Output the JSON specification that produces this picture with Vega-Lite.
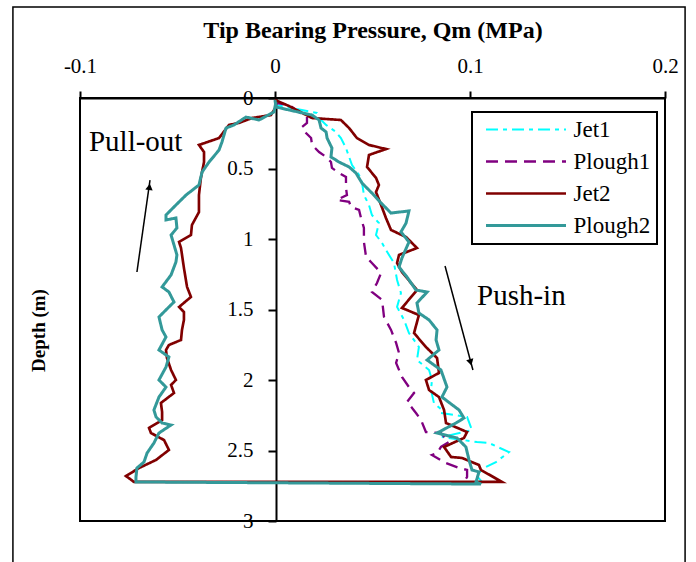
{
  "$schema": "https://vega.github.io/schema/vega-lite/v6.json",
  "width": 585,
  "height": 423,
  "autosize": {"type": "none"},
  "padding": {"left": 80, "top": 98, "right": 31, "bottom": 41},
  "background": "white",
  "config": {
    "view": {"stroke": "black", "strokeWidth": 2},
    "font": "Liberation Serif",
    "axis": {
      "labelFont": "Liberation Serif",
      "titleFont": "Liberation Serif",
      "labelColor": "black",
      "titleColor": "black",
      "domainColor": "black",
      "tickColor": "black",
      "domainWidth": 2,
      "tickWidth": 2,
      "grid": false,
      "labelFlush": false,
      "labelOverlap": false,
      "labelBound": false
    },
    "legend": {
      "labelFont": "Liberation Serif",
      "labelFontSize": 23,
      "labelColor": "black"
    }
  },
  "datasets": {
    "frame": [{"x": -0.1344, "x2": 0.2103, "y": -0.645, "y2": 3.35}],
    "curves": [
      {"series": "Jet1", "x": 0, "d": 0.014},
      {"series": "Jet1", "x": 0.0005, "d": 0.05},
      {"series": "Jet1", "x": 0.0138, "d": 0.085},
      {"series": "Jet1", "x": 0.0215, "d": 0.106},
      {"series": "Jet1", "x": 0.0226, "d": 0.142},
      {"series": "Jet1", "x": 0.0262, "d": 0.191},
      {"series": "Jet1", "x": 0.0313, "d": 0.241},
      {"series": "Jet1", "x": 0.0338, "d": 0.284},
      {"series": "Jet1", "x": 0.0364, "d": 0.355},
      {"series": "Jet1", "x": 0.038, "d": 0.418},
      {"series": "Jet1", "x": 0.0395, "d": 0.475},
      {"series": "Jet1", "x": 0.0431, "d": 0.546},
      {"series": "Jet1", "x": 0.0446, "d": 0.596},
      {"series": "Jet1", "x": 0.0456, "d": 0.688},
      {"series": "Jet1", "x": 0.0482, "d": 0.759},
      {"series": "Jet1", "x": 0.0497, "d": 0.83},
      {"series": "Jet1", "x": 0.0533, "d": 0.887},
      {"series": "Jet1", "x": 0.0518, "d": 0.972},
      {"series": "Jet1", "x": 0.0549, "d": 1.028},
      {"series": "Jet1", "x": 0.0569, "d": 1.078},
      {"series": "Jet1", "x": 0.061, "d": 1.17},
      {"series": "Jet1", "x": 0.0626, "d": 1.291},
      {"series": "Jet1", "x": 0.0646, "d": 1.383},
      {"series": "Jet1", "x": 0.0626, "d": 1.482},
      {"series": "Jet1", "x": 0.0662, "d": 1.574},
      {"series": "Jet1", "x": 0.0687, "d": 1.667},
      {"series": "Jet1", "x": 0.0738, "d": 1.766},
      {"series": "Jet1", "x": 0.0728, "d": 1.858},
      {"series": "Jet1", "x": 0.079, "d": 1.929},
      {"series": "Jet1", "x": 0.0805, "d": 2.0},
      {"series": "Jet1", "x": 0.08, "d": 2.071},
      {"series": "Jet1", "x": 0.0815, "d": 2.163},
      {"series": "Jet1", "x": 0.0856, "d": 2.213},
      {"series": "Jet1", "x": 0.0851, "d": 2.234},
      {"series": "Jet1", "x": 0.0985, "d": 2.262},
      {"series": "Jet1", "x": 0.101, "d": 2.355},
      {"series": "Jet1", "x": 0.0856, "d": 2.404},
      {"series": "Jet1", "x": 0.1036, "d": 2.44},
      {"series": "Jet1", "x": 0.1097, "d": 2.447},
      {"series": "Jet1", "x": 0.12, "d": 2.511},
      {"series": "Jet1", "x": 0.1133, "d": 2.582},
      {"series": "Jet1", "x": 0.1082, "d": 2.617},
      {"series": "Jet1", "x": 0.1031, "d": 2.674},
      {"series": "Jet1", "x": 0.1062, "d": 2.723},
      {"series": "Jet1", "x": 0.1046, "d": 2.738},

      {"series": "Plough1", "x": 0, "d": 0.014},
      {"series": "Plough1", "x": 0.0005, "d": 0.035},
      {"series": "Plough1", "x": 0.0072, "d": 0.05},
      {"series": "Plough1", "x": 0.0123, "d": 0.099},
      {"series": "Plough1", "x": 0.0164, "d": 0.135},
      {"series": "Plough1", "x": 0.0164, "d": 0.177},
      {"series": "Plough1", "x": 0.0138, "d": 0.206},
      {"series": "Plough1", "x": 0.0159, "d": 0.248},
      {"series": "Plough1", "x": 0.0185, "d": 0.284},
      {"series": "Plough1", "x": 0.019, "d": 0.333},
      {"series": "Plough1", "x": 0.0226, "d": 0.383},
      {"series": "Plough1", "x": 0.0262, "d": 0.418},
      {"series": "Plough1", "x": 0.0287, "d": 0.454},
      {"series": "Plough1", "x": 0.0292, "d": 0.496},
      {"series": "Plough1", "x": 0.0328, "d": 0.532},
      {"series": "Plough1", "x": 0.0364, "d": 0.56},
      {"series": "Plough1", "x": 0.0364, "d": 0.638},
      {"series": "Plough1", "x": 0.0369, "d": 0.688},
      {"series": "Plough1", "x": 0.0318, "d": 0.723},
      {"series": "Plough1", "x": 0.038, "d": 0.737},
      {"series": "Plough1", "x": 0.039, "d": 0.773},
      {"series": "Plough1", "x": 0.0431, "d": 0.794},
      {"series": "Plough1", "x": 0.0441, "d": 0.851},
      {"series": "Plough1", "x": 0.0456, "d": 0.922},
      {"series": "Plough1", "x": 0.0456, "d": 1.021},
      {"series": "Plough1", "x": 0.0467, "d": 1.127},
      {"series": "Plough1", "x": 0.0497, "d": 1.17},
      {"series": "Plough1", "x": 0.0544, "d": 1.241},
      {"series": "Plough1", "x": 0.0523, "d": 1.312},
      {"series": "Plough1", "x": 0.0497, "d": 1.376},
      {"series": "Plough1", "x": 0.0549, "d": 1.432},
      {"series": "Plough1", "x": 0.0559, "d": 1.553},
      {"series": "Plough1", "x": 0.0595, "d": 1.645},
      {"series": "Plough1", "x": 0.0621, "d": 1.737},
      {"series": "Plough1", "x": 0.0636, "d": 1.808},
      {"series": "Plough1", "x": 0.0621, "d": 1.879},
      {"series": "Plough1", "x": 0.0651, "d": 1.978},
      {"series": "Plough1", "x": 0.0687, "d": 2.05},
      {"series": "Plough1", "x": 0.0713, "d": 2.092},
      {"series": "Plough1", "x": 0.0677, "d": 2.156},
      {"series": "Plough1", "x": 0.0703, "d": 2.198},
      {"series": "Plough1", "x": 0.0723, "d": 2.234},
      {"series": "Plough1", "x": 0.0749, "d": 2.284},
      {"series": "Plough1", "x": 0.0774, "d": 2.369},
      {"series": "Plough1", "x": 0.0851, "d": 2.376},
      {"series": "Plough1", "x": 0.0892, "d": 2.44},
      {"series": "Plough1", "x": 0.0851, "d": 2.475},
      {"series": "Plough1", "x": 0.0831, "d": 2.518},
      {"series": "Plough1", "x": 0.0805, "d": 2.532},
      {"series": "Plough1", "x": 0.0877, "d": 2.589},
      {"series": "Plough1", "x": 0.0944, "d": 2.624},
      {"series": "Plough1", "x": 0.0985, "d": 2.638},
      {"series": "Plough1", "x": 0.0985, "d": 2.688},
      {"series": "Plough1", "x": 0.0969, "d": 2.723},

      {"series": "Jet2", "x": 0, "d": 0.014},
      {"series": "Jet2", "x": 0.0072, "d": 0.057},
      {"series": "Jet2", "x": 0.019, "d": 0.142},
      {"series": "Jet2", "x": 0.0338, "d": 0.156},
      {"series": "Jet2", "x": 0.038, "d": 0.213},
      {"series": "Jet2", "x": 0.042, "d": 0.284},
      {"series": "Jet2", "x": 0.0482, "d": 0.333},
      {"series": "Jet2", "x": 0.0569, "d": 0.362},
      {"series": "Jet2", "x": 0.0482, "d": 0.404},
      {"series": "Jet2", "x": 0.0472, "d": 0.489},
      {"series": "Jet2", "x": 0.0518, "d": 0.567},
      {"series": "Jet2", "x": 0.0533, "d": 0.617},
      {"series": "Jet2", "x": 0.0518, "d": 0.667},
      {"series": "Jet2", "x": 0.0544, "d": 0.759},
      {"series": "Jet2", "x": 0.0569, "d": 0.851},
      {"series": "Jet2", "x": 0.0595, "d": 0.936},
      {"series": "Jet2", "x": 0.0672, "d": 0.986},
      {"series": "Jet2", "x": 0.0728, "d": 1.064},
      {"series": "Jet2", "x": 0.0636, "d": 1.113},
      {"series": "Jet2", "x": 0.0626, "d": 1.17},
      {"series": "Jet2", "x": 0.0651, "d": 1.234},
      {"series": "Jet2", "x": 0.0728, "d": 1.362},
      {"series": "Jet2", "x": 0.0651, "d": 1.489},
      {"series": "Jet2", "x": 0.0738, "d": 1.539},
      {"series": "Jet2", "x": 0.0713, "d": 1.667},
      {"series": "Jet2", "x": 0.0774, "d": 1.766},
      {"series": "Jet2", "x": 0.0831, "d": 1.844},
      {"series": "Jet2", "x": 0.0841, "d": 1.95},
      {"series": "Jet2", "x": 0.0774, "d": 2.0},
      {"series": "Jet2", "x": 0.079, "d": 2.071},
      {"series": "Jet2", "x": 0.0841, "d": 2.121},
      {"series": "Jet2", "x": 0.0867, "d": 2.213},
      {"series": "Jet2", "x": 0.0877, "d": 2.305},
      {"series": "Jet2", "x": 0.0985, "d": 2.369},
      {"series": "Jet2", "x": 0.0969, "d": 2.411},
      {"series": "Jet2", "x": 0.0867, "d": 2.475},
      {"series": "Jet2", "x": 0.0903, "d": 2.546},
      {"series": "Jet2", "x": 0.0959, "d": 2.553},
      {"series": "Jet2", "x": 0.1046, "d": 2.603},
      {"series": "Jet2", "x": 0.1056, "d": 2.638},
      {"series": "Jet2", "x": 0.1164, "d": 2.723},
      {"series": "Jet2", "x": -0.0723, "d": 2.723},
      {"series": "Jet2", "x": -0.0764, "d": 2.681},
      {"series": "Jet2", "x": -0.0697, "d": 2.624},
      {"series": "Jet2", "x": -0.061, "d": 2.567},
      {"series": "Jet2", "x": -0.0544, "d": 2.496},
      {"series": "Jet2", "x": -0.0569, "d": 2.426},
      {"series": "Jet2", "x": -0.0636, "d": 2.376},
      {"series": "Jet2", "x": -0.0646, "d": 2.34},
      {"series": "Jet2", "x": -0.0579, "d": 2.284},
      {"series": "Jet2", "x": -0.0579, "d": 2.227},
      {"series": "Jet2", "x": -0.0585, "d": 2.163},
      {"series": "Jet2", "x": -0.0518, "d": 2.092},
      {"series": "Jet2", "x": -0.0533, "d": 2.035},
      {"series": "Jet2", "x": -0.0508, "d": 2.0},
      {"series": "Jet2", "x": -0.0533, "d": 1.929},
      {"series": "Jet2", "x": -0.0554, "d": 1.844},
      {"series": "Jet2", "x": -0.0559, "d": 1.787},
      {"series": "Jet2", "x": -0.0544, "d": 1.752},
      {"series": "Jet2", "x": -0.0482, "d": 1.716},
      {"series": "Jet2", "x": -0.0477, "d": 1.645},
      {"series": "Jet2", "x": -0.0467, "d": 1.574},
      {"series": "Jet2", "x": -0.0467, "d": 1.518},
      {"series": "Jet2", "x": -0.0492, "d": 1.482},
      {"series": "Jet2", "x": -0.0431, "d": 1.411},
      {"series": "Jet2", "x": -0.0451, "d": 1.34},
      {"series": "Jet2", "x": -0.0467, "d": 1.206},
      {"series": "Jet2", "x": -0.0482, "d": 1.064},
      {"series": "Jet2", "x": -0.0492, "d": 1.021},
      {"series": "Jet2", "x": -0.0431, "d": 0.972},
      {"series": "Jet2", "x": -0.0426, "d": 0.901},
      {"series": "Jet2", "x": -0.039, "d": 0.809},
      {"series": "Jet2", "x": -0.039, "d": 0.688},
      {"series": "Jet2", "x": -0.038, "d": 0.567},
      {"series": "Jet2", "x": -0.0364, "d": 0.454},
      {"series": "Jet2", "x": -0.0364, "d": 0.383},
      {"series": "Jet2", "x": -0.039, "d": 0.333},
      {"series": "Jet2", "x": -0.0287, "d": 0.284},
      {"series": "Jet2", "x": -0.0236, "d": 0.191},
      {"series": "Jet2", "x": -0.0185, "d": 0.177},
      {"series": "Jet2", "x": -0.0118, "d": 0.142},
      {"series": "Jet2", "x": -0.0021, "d": 0.121},
      {"series": "Jet2", "x": 0.0005, "d": 0.064},
      {"series": "Jet2", "x": 0.0005, "d": 0.014},

      {"series": "Plough2", "x": 0, "d": 0.014},
      {"series": "Plough2", "x": 0.0005, "d": 0.064},
      {"series": "Plough2", "x": 0.0072, "d": 0.085},
      {"series": "Plough2", "x": 0.019, "d": 0.121},
      {"series": "Plough2", "x": 0.0226, "d": 0.156},
      {"series": "Plough2", "x": 0.0236, "d": 0.213},
      {"series": "Plough2", "x": 0.0262, "d": 0.241},
      {"series": "Plough2", "x": 0.0267, "d": 0.284},
      {"series": "Plough2", "x": 0.0292, "d": 0.355},
      {"series": "Plough2", "x": 0.0287, "d": 0.418},
      {"series": "Plough2", "x": 0.0328, "d": 0.454},
      {"series": "Plough2", "x": 0.038, "d": 0.489},
      {"series": "Plough2", "x": 0.0415, "d": 0.532},
      {"series": "Plough2", "x": 0.0446, "d": 0.603},
      {"series": "Plough2", "x": 0.0497, "d": 0.674},
      {"series": "Plough2", "x": 0.0544, "d": 0.745},
      {"series": "Plough2", "x": 0.0595, "d": 0.816},
      {"series": "Plough2", "x": 0.0687, "d": 0.801},
      {"series": "Plough2", "x": 0.0672, "d": 0.887},
      {"series": "Plough2", "x": 0.0646, "d": 0.95},
      {"series": "Plough2", "x": 0.0687, "d": 1.021},
      {"series": "Plough2", "x": 0.0651, "d": 1.135},
      {"series": "Plough2", "x": 0.0636, "d": 1.199},
      {"series": "Plough2", "x": 0.0677, "d": 1.27},
      {"series": "Plough2", "x": 0.0723, "d": 1.362},
      {"series": "Plough2", "x": 0.078, "d": 1.376},
      {"series": "Plough2", "x": 0.0728, "d": 1.454},
      {"series": "Plough2", "x": 0.0738, "d": 1.525},
      {"series": "Plough2", "x": 0.079, "d": 1.574},
      {"series": "Plough2", "x": 0.0831, "d": 1.645},
      {"series": "Plough2", "x": 0.0826, "d": 1.716},
      {"series": "Plough2", "x": 0.0841, "d": 1.787},
      {"series": "Plough2", "x": 0.078, "d": 1.858},
      {"series": "Plough2", "x": 0.0851, "d": 1.929},
      {"series": "Plough2", "x": 0.0882, "d": 2.05},
      {"series": "Plough2", "x": 0.0856, "d": 2.121},
      {"series": "Plough2", "x": 0.0944, "d": 2.213},
      {"series": "Plough2", "x": 0.0969, "d": 2.27},
      {"series": "Plough2", "x": 0.0928, "d": 2.305},
      {"series": "Plough2", "x": 0.0831, "d": 2.376},
      {"series": "Plough2", "x": 0.0933, "d": 2.411},
      {"series": "Plough2", "x": 0.0979, "d": 2.475},
      {"series": "Plough2", "x": 0.0995, "d": 2.567},
      {"series": "Plough2", "x": 0.101, "d": 2.638},
      {"series": "Plough2", "x": 0.1046, "d": 2.652},
      {"series": "Plough2", "x": 0.1031, "d": 2.723},
      {"series": "Plough2", "x": 0.1056, "d": 2.738},
      {"series": "Plough2", "x": -0.0713, "d": 2.723},
      {"series": "Plough2", "x": -0.0713, "d": 2.688},
      {"series": "Plough2", "x": -0.0708, "d": 2.624},
      {"series": "Plough2", "x": -0.0672, "d": 2.582},
      {"series": "Plough2", "x": -0.0656, "d": 2.518},
      {"series": "Plough2", "x": -0.0621, "d": 2.447},
      {"series": "Plough2", "x": -0.0595, "d": 2.376},
      {"series": "Plough2", "x": -0.0533, "d": 2.319},
      {"series": "Plough2", "x": -0.0579, "d": 2.305},
      {"series": "Plough2", "x": -0.061, "d": 2.262},
      {"series": "Plough2", "x": -0.0621, "d": 2.213},
      {"series": "Plough2", "x": -0.0595, "d": 2.121},
      {"series": "Plough2", "x": -0.0559, "d": 2.05},
      {"series": "Plough2", "x": -0.0595, "d": 2.0},
      {"series": "Plough2", "x": -0.0559, "d": 1.908},
      {"series": "Plough2", "x": -0.0544, "d": 1.837},
      {"series": "Plough2", "x": -0.0595, "d": 1.787},
      {"series": "Plough2", "x": -0.0559, "d": 1.695},
      {"series": "Plough2", "x": -0.0579, "d": 1.645},
      {"series": "Plough2", "x": -0.0595, "d": 1.553},
      {"series": "Plough2", "x": -0.0544, "d": 1.482},
      {"series": "Plough2", "x": -0.0518, "d": 1.447},
      {"series": "Plough2", "x": -0.0544, "d": 1.376},
      {"series": "Plough2", "x": -0.0579, "d": 1.34},
      {"series": "Plough2", "x": -0.0533, "d": 1.255},
      {"series": "Plough2", "x": -0.0508, "d": 1.163},
      {"series": "Plough2", "x": -0.0503, "d": 1.113},
      {"series": "Plough2", "x": -0.0518, "d": 1.042},
      {"series": "Plough2", "x": -0.0533, "d": 0.972},
      {"series": "Plough2", "x": -0.0503, "d": 0.922},
      {"series": "Plough2", "x": -0.0508, "d": 0.851},
      {"series": "Plough2", "x": -0.0559, "d": 0.865},
      {"series": "Plough2", "x": -0.0559, "d": 0.83},
      {"series": "Plough2", "x": -0.0508, "d": 0.759},
      {"series": "Plough2", "x": -0.0456, "d": 0.688},
      {"series": "Plough2", "x": -0.039, "d": 0.617},
      {"series": "Plough2", "x": -0.0374, "d": 0.525},
      {"series": "Plough2", "x": -0.0338, "d": 0.454},
      {"series": "Plough2", "x": -0.0287, "d": 0.369},
      {"series": "Plough2", "x": -0.0272, "d": 0.312},
      {"series": "Plough2", "x": -0.0251, "d": 0.213},
      {"series": "Plough2", "x": -0.021, "d": 0.191},
      {"series": "Plough2", "x": -0.0149, "d": 0.135},
      {"series": "Plough2", "x": -0.0082, "d": 0.156},
      {"series": "Plough2", "x": -0.0005, "d": 0.099},
      {"series": "Plough2", "x": 0.0005, "d": 0.028}
    ],
    "arrows": [
      {"label": "Push-in", "x": 0.0872, "d": 1.191, "x2": 0.1015, "d2": 1.929, "hx": 0.1003, "hd": 1.875, "angle": 165, "tx": 0.1036, "td": 1.468},
      {"label": "Pull-out", "x": -0.0708, "d": 1.234, "x2": -0.0641, "d2": 0.582, "hx": -0.0644, "hd": 0.63, "angle": 8, "tx": -0.0954, "td": 0.376}
    ]
  },
  "layer": [
    {
      "data": {"name": "frame"},
      "mark": {"type": "rect", "fill": null, "stroke": "black", "strokeWidth": 1.5, "clip": false},
      "encoding": {
        "x": {
          "field": "x", "type": "quantitative",
          "title": "Tip Bearing Pressure, Qm (MPa)",
          "scale": {"domain": [-0.1, 0.2], "nice": false, "zero": false},
          "axis": {
            "orient": "top",
            "values": [-0.1, 0, 0.1, 0.2],
            "labelExpr": "datum.value < 0 ? '-' + format(-datum.value, '~g') : format(datum.value, '~g')",
            "titleFontSize": 24,
            "titleFontWeight": "bold",
            "titleBaseline": "middle",
            "titleY": -68,
            "labelFontSize": 21,
            "labelBaseline": "alphabetic",
            "labelPadding": 19,
            "tickSize": 7
          }
        },
        "x2": {"field": "x2"},
        "y": {
          "field": "y", "type": "quantitative",
          "title": "Depth (m)",
          "scale": {"domain": [0, 3], "nice": false, "zero": false, "reverse": true},
          "axis": {
            "orient": "left",
            "offset": -196,
            "values": [0, 0.5, 1, 1.5, 2, 2.5, 3],
            "format": "~g",
            "titleFontSize": 19,
            "titleFontWeight": "bold",
            "titleAngle": -90,
            "titleAlign": "center",
            "titleBaseline": "middle",
            "titleX": -238,
            "titleY": 232,
            "labelFontSize": 21,
            "labelBaseline": "middle",
            "labelPadding": 15,
            "tickSize": 8
          }
        },
        "y2": {"field": "y2"}
      }
    },
    {
      "data": {"name": "curves"},
      "mark": {"type": "line", "strokeJoin": "miter", "strokeCap": "butt"},
      "encoding": {
        "x": {"field": "x", "type": "quantitative", "title": "Tip Bearing Pressure, Qm (MPa)", "scale": {"domain": [-0.1, 0.2], "nice": false, "zero": false}},
        "y": {"field": "d", "type": "quantitative", "title": "Depth (m)", "scale": {"domain": [0, 3], "nice": false, "zero": false, "reverse": true}},
        "order": {"value": null},
        "color": {
          "field": "series", "type": "nominal",
          "scale": {"domain": ["Jet1", "Plough1", "Jet2", "Plough2"], "range": ["#00FFFF", "#800080", "#800000", "#339999"]},
          "legend": {
            "title": null,
            "orient": "none",
            "legendX": 392,
            "legendY": 14,
            "padding": 6,
            "strokeColor": "black",
            "fillColor": "white",
            "symbolType": "M-4.444,0H4.444",
            "symbolSize": 324,
            "symbolOffset": 36.5,
            "labelOffset": 36,
            "rowPadding": 8,
            "labelFontSize": 23,
            "labelFont": "Liberation Serif",
            "encode": {"legend": {"update": {"strokeWidth": {"value": 2}}}}
          }
        },
        "strokeDash": {
          "field": "series", "type": "nominal",
          "scale": {"domain": ["Jet1", "Plough1", "Jet2", "Plough2"], "range": [[12, 5, 4, 5], [12, 7], [1, 0], [1, 0]]},
          "legend": {"title": null}
        },
        "strokeWidth": {
          "field": "series", "type": "nominal",
          "scale": {"domain": ["Jet1", "Plough1", "Jet2", "Plough2"], "range": [2, 3, 1.8, 3.2]},
          "legend": {"title": null}
        }
      }
    },
    {
      "data": {"name": "arrows"},
      "mark": {"type": "rule", "color": "black", "strokeWidth": 1.5},
      "encoding": {
        "x": {"field": "x", "type": "quantitative", "title": "Tip Bearing Pressure, Qm (MPa)", "scale": {"domain": [-0.1, 0.2], "nice": false, "zero": false}},
        "y": {"field": "d", "type": "quantitative", "title": "Depth (m)", "scale": {"domain": [0, 3], "nice": false, "zero": false, "reverse": true}},
        "x2": {"field": "x2"},
        "y2": {"field": "d2"}
      }
    },
    {
      "data": {"name": "arrows"},
      "mark": {"type": "point", "shape": "triangle-up", "filled": true, "color": "black", "size": 55, "opacity": 1},
      "encoding": {
        "x": {"field": "hx", "type": "quantitative", "title": "Tip Bearing Pressure, Qm (MPa)", "scale": {"domain": [-0.1, 0.2], "nice": false, "zero": false}},
        "y": {"field": "hd", "type": "quantitative", "title": "Depth (m)", "scale": {"domain": [0, 3], "nice": false, "zero": false, "reverse": true}},
        "angle": {"field": "angle", "type": "quantitative", "scale": null}
      }
    },
    {
      "data": {"name": "arrows"},
      "mark": {"type": "text", "font": "Liberation Serif", "fontSize": 29, "align": "left", "baseline": "alphabetic", "color": "black"},
      "encoding": {
        "x": {"field": "tx", "type": "quantitative", "title": "Tip Bearing Pressure, Qm (MPa)", "scale": {"domain": [-0.1, 0.2], "nice": false, "zero": false}},
        "y": {"field": "td", "type": "quantitative", "title": "Depth (m)", "scale": {"domain": [0, 3], "nice": false, "zero": false, "reverse": true}},
        "text": {"field": "label"}
      }
    }
  ]
}
